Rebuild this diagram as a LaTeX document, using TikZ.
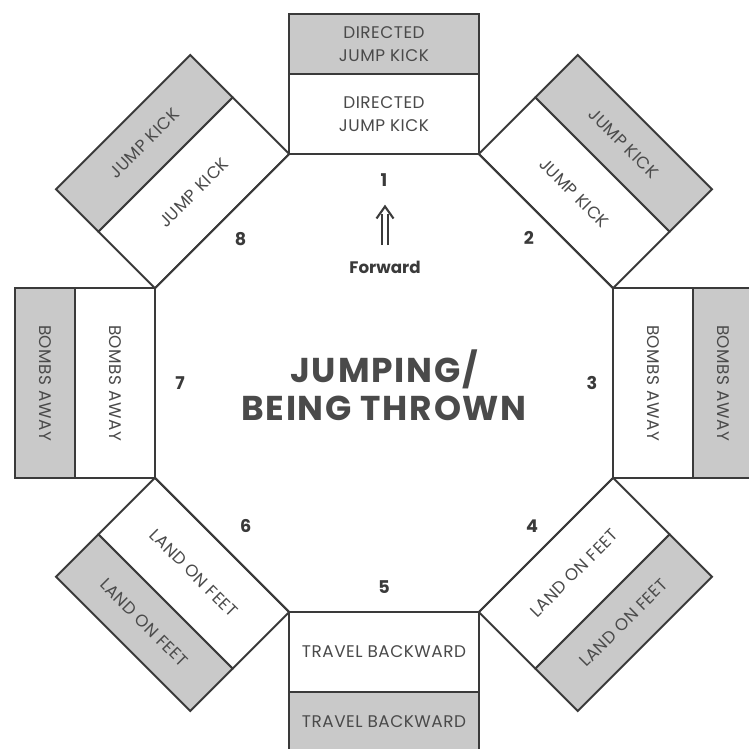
\documentclass[tikz,border=0pt]{standalone}
\usepackage{fontspec}
\setmainfont{Poppins}
\usetikzlibrary{calc}
\definecolor{boxgray}{HTML}{C9C9C9}
\definecolor{edge}{HTML}{3A3A3A}
\definecolor{ink}{HTML}{4A4A4A}
\begin{document}
\begin{tikzpicture}[
  wbox/.style={draw=edge, line width=1.1pt, fill=white, minimum width=3.8cm, minimum height=1.6cm, inner sep=0pt, text=ink, font=\fontsize{9.6}{13}\selectfont\addfontfeatures{LetterSpace=3}, align=center},
  gbox/.style={wbox, fill=boxgray, minimum height=1.2cm},
  num/.style={text=edge, font=\bfseries\fontsize{10}{12}\selectfont},
  title/.style={text=ink, font=\bfseries\fontsize{19.6}{21.5}\selectfont\addfontfeatures{LetterSpace=5}, align=center},
  fwd/.style={text=edge, font=\bfseries\fontsize{9.5}{11}\selectfont},
  octline/.style={draw=edge, line width=1.1pt},
  arrline/.style={draw=edge, line width=1.1pt},
  arrhead/.style={draw=edge, line width=1.2pt, line join=miter},
]
\useasboundingbox (0,0) rectangle (14.98,-14.98);
\clip (0,0) rectangle (14.98,-14.98);
\coordinate (c) at (7.68,-7.66);

% boxes: white (inner) and gray (outer)
\node[wbox, rotate=0]   (w1) at ($(c)+(90:5.38)$)  {DIRECTED\\JUMP KICK};
\node[gbox, rotate=0]   (g1) at ($(c)+(90:6.78)$)  {DIRECTED\\JUMP KICK};
\node[wbox, rotate=-45] (w2) at ($(c)+(45:5.38)$)  {JUMP KICK};
\node[gbox, rotate=-45] (g2) at ($(c)+(45:6.78)$)  {JUMP KICK};
\node[wbox, rotate=-90] (w3) at ($(c)+(0:5.38)$)   {BOMBS AWAY};
\node[gbox, rotate=-90] (g3) at ($(c)+(0:6.78)$)   {BOMBS AWAY};
\node[wbox, rotate=45]  (w4) at ($(c)+(-45:5.38)$) {LAND ON FEET};
\node[gbox, rotate=45]  (g4) at ($(c)+(-45:6.78)$) {LAND ON FEET};
\node[wbox, rotate=0]   (w5) at ($(c)+(-90:5.38)$) {TRAVEL BACKWARD};
\node[gbox, rotate=0]   (g5) at ($(c)+(-90:6.78)$) {TRAVEL BACKWARD};
\node[wbox, rotate=-45] (w6) at ($(c)+(-135:5.38)$) {LAND ON FEET};
\node[gbox, rotate=-45] (g6) at ($(c)+(-135:6.78)$) {LAND ON FEET};
\node[wbox, rotate=-90] (w7) at ($(c)+(180:5.38)$) {BOMBS AWAY};
\node[gbox, rotate=-90] (g7) at ($(c)+(180:6.78)$) {BOMBS AWAY};
\node[wbox, rotate=45]  (w8) at ($(c)+(135:5.38)$) {JUMP KICK};
\node[gbox, rotate=45]  (g8) at ($(c)+(135:6.78)$) {JUMP KICK};

% octagon
\foreach \i in {1,...,8} {
  \coordinate (v\i) at ($(c)+({22.5+45*(\i-1)}:4.958)$);
}
\draw[octline] (v1) -- (v2) -- (v3) -- (v4) -- (v5) -- (v6) -- (v7) -- (v8) -- cycle;

% numbers
\node[num] (n1) at ($(c)+(90:4.06)$)   {1};
\node[num] (n2) at ($(c)+(45:4.10)$)   {2};
\node[num] (n3) at ($(c)+(0:4.16)$)    {3};
\node[num] (n4) at ($(c)+(-44:4.12)$)  {4};
\node[num] (n5) at ($(c)+(-90:4.08)$)  {5};
\node[num] (n6) at ($(c)+(-134:3.98)$) {6};
\node[num] (n7) at ($(c)+(180:4.08)$)  {7};
\node[num] (n8) at ($(c)+(135:4.06)$)  {8};

% forward double arrow
\coordinate (la) at (7.645,-4.90);
\coordinate (lb) at (7.645,-4.28);
\coordinate (ra) at (7.755,-4.90);
\coordinate (rb) at (7.755,-4.28);
\coordinate (hl) at (7.53,-4.37);
\coordinate (ht) at (7.70,-4.13);
\coordinate (hr) at (7.87,-4.37);
\draw[arrline] (la) -- (lb);
\draw[arrline] (ra) -- (rb);
\draw[arrhead] (hl) -- (ht) -- (hr);
\node[fwd] (fw) at (7.70,-5.34) {Forward};

% title
\node[title] (t) at ($(c)+(0.0,-0.04)$) {JUMPING/\\BEING THROWN};
\end{tikzpicture}
\end{document}
